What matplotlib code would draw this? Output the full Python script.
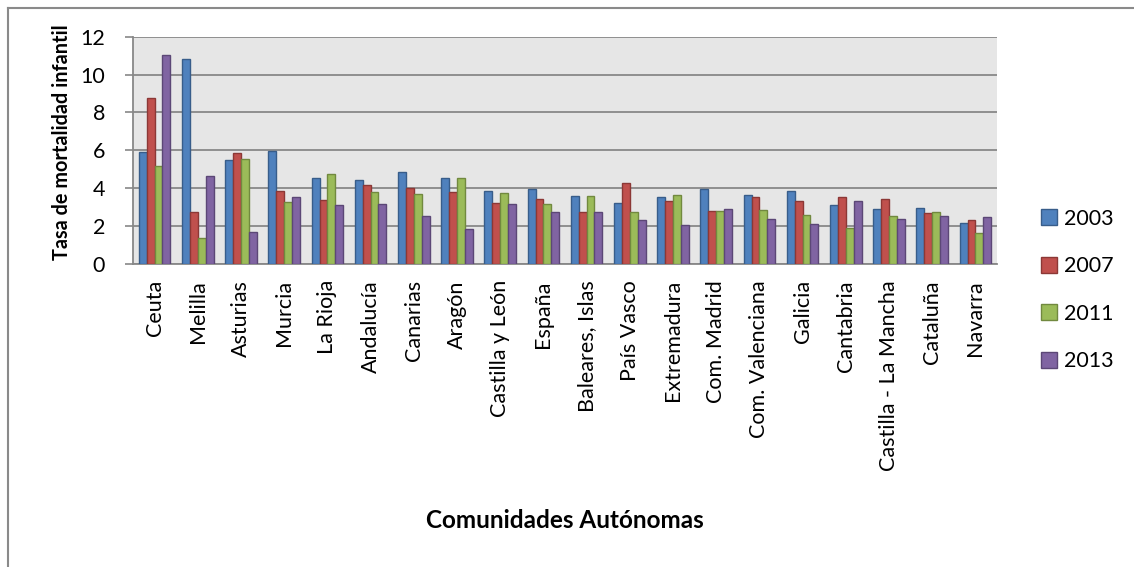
import matplotlib
matplotlib.use("Agg")
import matplotlib.pyplot as plt
from matplotlib.lines import Line2D
from matplotlib.patches import Patch
import numpy as np

plt.rcParams['font.family'] = ['Lato', 'DejaVu Sans']

categories = ["Ceuta", "Melilla", "Asturias", "Murcia", "La Rioja", "Andalucía",
              "Canarias", "Aragón", "Castilla y León", "España", "Baleares, Islas",
              "País Vasco", "Extremadura", "Com. Madrid", "Com. Valenciana",
              "Galicia", "Cantabria", "Castilla - La Mancha", "Cataluña", "Navarra"]

years = ["2003", "2007", "2011", "2013"]

tasa_2003 = [5.91, 10.81, 5.47, 5.94, 4.51, 4.41, 4.85, 4.53, 3.86, 3.92,
             3.56, 3.21, 3.51, 3.97, 3.60, 3.86, 3.09, 2.89, 2.96, 2.12]
tasa_2007 = [8.78, 2.70, 5.86, 3.86, 3.35, 4.13, 3.99, 3.81, 3.19, 3.44,
             2.70, 4.27, 3.33, 2.77, 3.54, 3.33, 3.53, 3.44, 2.65, 2.28]
tasa_2011 = [5.15, 1.36, 5.52, 3.28, 4.73, 3.76, 3.67, 4.51, 3.74, 3.17,
             3.56, 2.73, 3.63, 2.77, 2.84, 2.56, 1.89, 2.49, 2.72, 1.64]
tasa_2013 = [11.06, 4.64, 1.66, 3.54, 3.10, 3.16, 2.52, 1.82, 3.16, 2.73,
             2.75, 2.31, 2.03, 2.89, 2.36, 2.10, 3.33, 2.36, 2.50, 2.47]

series = [tasa_2003, tasa_2007, tasa_2011, tasa_2013]
fills = ["#4F81BD", "#C0504D", "#9BBB59", "#8064A2"]
edges = ["#385D8A", "#8C3836", "#71893F", "#5C4776"]

fig = plt.figure(figsize=(11.34, 5.67), dpi=100)
ax = fig.add_axes([133 / 1134, 1 - 263.5 / 567, (997 - 133) / 1134, (263.5 - 36.8) / 567])
ax.set_facecolor("#E6E6E6")

n = len(categories)
x = np.arange(n)
bw = 1 / 5.5
for i, (vals, fc, ec) in enumerate(zip(series, fills, edges)):
    ax.bar(x + (i - 1.5) * bw, vals, width=bw, color=fc, edgecolor=ec,
           linewidth=1.0, label=years[i], zorder=3)

ax.set_xlim(-0.5, n - 0.5)
ax.set_ylim(0, 12)
ax.set_yticks(range(0, 13, 2))
ax.yaxis.grid(True, color="#888888", linewidth=1.3, zorder=1)
ax.set_axisbelow(True)

ax.set_xticks(x)
ax.set_xticklabels(categories, rotation=90, fontsize=15.5)
ax.tick_params(axis="x", length=0, pad=12)
ax.tick_params(axis="y", length=6, width=1.2, color="#888888", labelsize=15.5, pad=14)

for side in ("top", "right"):
    ax.spines[side].set_visible(False)
for side in ("left", "bottom"):
    ax.spines[side].set_color("#888888")
    ax.spines[side].set_linewidth(1.3)

fig.text(62 / 1134, 1 - 142 / 567, "Tasa de mortalidad infantil", rotation=90,
         ha="center", va="center", fontsize=14.3, fontweight="bold")
fig.text(565 / 1134, 1 - 520 / 567, "Comunidades Autónomas",
         ha="center", va="center", fontsize=17.5, fontweight="bold")

handles = [Patch(facecolor=fc, edgecolor=ec, linewidth=1.0) for fc, ec in zip(fills, edges)]
fig.legend(handles, years, loc="center left", bbox_to_anchor=(1032 / 1134, 1 - 290 / 567),
           frameon=False, fontsize=15.5, handlelength=0.75, handleheight=0.75,
           handletextpad=0.35, labelspacing=1.28, borderaxespad=0)

# outer frame (top and left edges)
fig.add_artist(Line2D([7.5 / 1134, 1], [1 - 7.5 / 567, 1 - 7.5 / 567],
                      transform=fig.transFigure, color="#8A8A8A", linewidth=1.5))
fig.add_artist(Line2D([7.5 / 1134, 7.5 / 1134], [0, 1 - 7.5 / 567],
                      transform=fig.transFigure, color="#8A8A8A", linewidth=1.5))

fig.savefig("out.png", dpi=100, facecolor="white")
